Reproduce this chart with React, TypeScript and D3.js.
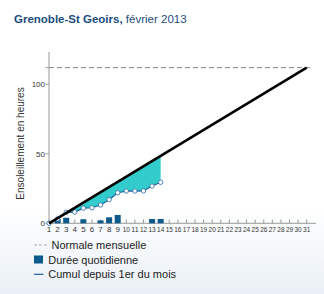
import React from "react";
import * as d3 from "d3";

const days = d3.range(1, 32);
const barDays = [2, 3, 5, 7, 8, 9, 13, 14];
const barHours = [3.1, 4.0, 2.9, 2.1, 4.3, 6.0, 3.1, 3.1];
const cumulDays = [1, 2, 3, 4, 5, 6, 7, 8, 9, 10, 11, 12, 13, 14];
const cumulHours = [0, 3.1, 7.9, 8.1, 10.9, 11.2, 13.2, 17.0, 22.0, 23.2, 23.2, 23.3, 26.8, 29.5];
const normalDays = [1, 31];
const normalCumul = [0, 112];
const normaleMensuelle = 112;
const yTicks = [0, 50, 100];

const W = 324;
const H = 294;

export default function App() {
  const x = d3.scaleLinear().domain([1, 31]).range([49, 306.7]);
  const y = d3.scaleLinear().domain([0, 100]).range([223.3, 84.3]);

  const normAt = d3.scaleLinear().domain(normalDays).range(normalCumul);

  const normLine = d3.line<number>()
    .x((d, i) => x(normalDays[i]))
    .y((d) => y(d))(normalCumul) as string;

  const cumulLine = d3.line<number>()
    .x((d, i) => x(cumulDays[i]))
    .y((d) => y(d))(cumulHours) as string;

  const area = d3.area<number>()
    .x((d) => x(d))
    .y0((d, i) => y(cumulHours[i]))
    .y1((d) => y(normAt(d)))(cumulDays) as string;

  const bw = 6;
  const font = "'Liberation Sans', Arial, sans-serif";

  return (
    <svg width={W} height={H} style={{ position: "absolute", left: 0, top: 0 }} fontFamily={font}>
      <defs>
        <linearGradient id="bg" x1="0" y1="0" x2="0" y2="1">
          <stop offset="0" stopColor="#ffffff" />
          <stop offset="0.7" stopColor="#ffffff" />
          <stop offset="1" stopColor="#eaf0f6" />
        </linearGradient>
      </defs>
      <rect x={0} y={0} width={W} height={H} fill="url(#bg)" />

      <text x={14} y={23} fontSize={11.5} fill="#1b4d7e">
        <tspan fontWeight="bold">Grenoble-St Geoirs,</tspan>
        <tspan> février 2013</tspan>
      </text>

      {/* area */}
      <path d={area} fill="#33cccc" />

      {/* normale mensuelle dashed */}
      <line x1={49} x2={312} y1={y(normaleMensuelle)} y2={y(normaleMensuelle)} stroke="#8a8a8a" strokeWidth={1} strokeDasharray="5,3" />

      {/* y axis */}
      <line x1={49} x2={49} y1={52} y2={223.3} stroke="#999" strokeWidth={1} />
      {yTicks.map((t) => (
        <g key={t}>
          <line x1={45.5} x2={49} y1={y(t)} y2={y(t)} stroke="#999" />
          <text x={45} y={y(t) + 3} fontSize={8} textAnchor="end" fill="#333">{t}</text>
        </g>
      ))}
      <line x1={45.5} x2={49} y1={y(normaleMensuelle)} y2={y(normaleMensuelle)} stroke="#999" />

      {/* x axis */}
      <line x1={49} x2={316} y1={223.3} y2={223.3} stroke="#999" strokeWidth={1} />
      {days.map((d) => (
        <g key={d}>
          <line x1={x(d)} x2={x(d)} y1={219.5} y2={223.3} stroke="#999" />
          {d < 10 ? (
            <text x={x(d)} y={231.7} fontSize={8} textAnchor="middle" fill="#333">{d}</text>
          ) : (
            <text x={x(d)} y={231.7} fontSize={8} textAnchor="middle" fill="#333" textLength={7.2} lengthAdjust="spacingAndGlyphs">{d}</text>
          )}
        </g>
      ))}

      {/* bars */}
      {barDays.map((d, i) => (
        <rect key={d} x={x(d) - bw / 2} y={y(barHours[i])} width={bw} height={y(0) - y(barHours[i])} fill="#0b5a8c" />
      ))}

      {/* cumul line */}
      <path d={cumulLine} fill="none" stroke="#1f5f9e" strokeWidth={1.2} />
      {cumulDays.map((d, i) => (
        <circle key={d} cx={x(d)} cy={y(cumulHours[i])} r={2.2} fill="#fff" stroke="#3a78b0" strokeWidth={0.9} />
      ))}

      {/* normal cumul line */}
      <path d={normLine} fill="none" stroke="#000" strokeWidth={2.6} />

      <text x={20} y={143.5} fontSize={10} fill="#333" textAnchor="middle" transform="rotate(-90 20 143.5)" dy={3.5}>Ensoleillement en heures</text>

      {/* legend */}
      <line x1={34} x2={49} y1={245} y2={245} stroke="#aaa" strokeDasharray="3,2" />
      <text x={51.5} y={248.8} fontSize={11} fill="#222">Normale mensuelle</text>
      <rect x={34} y={255.5} width={9} height={8} fill="#0b5a8c" />
      <text x={48.3} y={263.8} fontSize={11} fill="#222">Durée quotidienne</text>
      <line x1={34} x2={43.5} y1={274.3} y2={274.3} stroke="#1f5f9e" strokeWidth={1.2} />
      <text x={48.3} y={278.1} fontSize={11} fill="#222">Cumul depuis 1er du mois</text>
    </svg>
  );
}
